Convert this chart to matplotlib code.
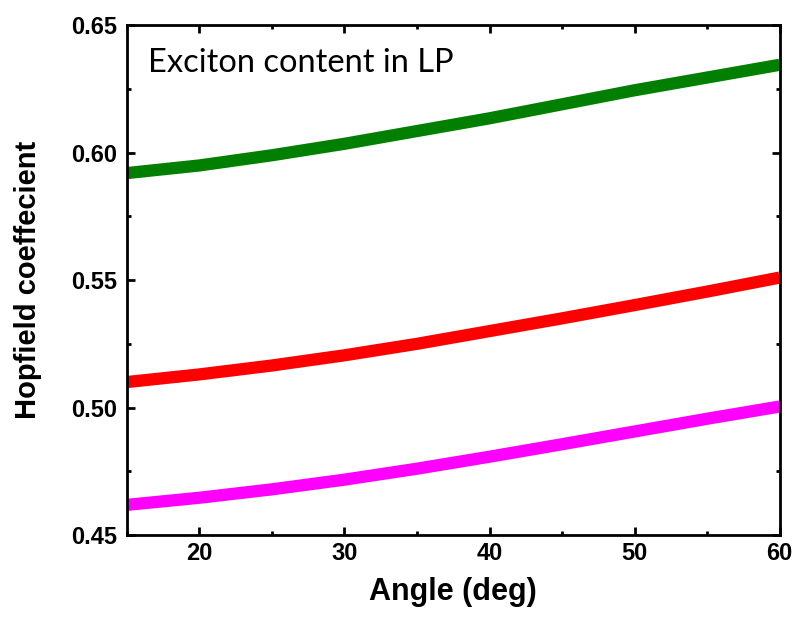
import matplotlib.pyplot as plt
import numpy as np

# angle (deg) and Hopfield coefficients
angle = [15, 20, 25, 30, 35, 40, 45, 50, 55, 60]
green_lp = [0.5920, 0.5950, 0.5990, 0.6035, 0.6085, 0.6135, 0.6190, 0.6245, 0.6295, 0.6345]
red_lp = [0.5100, 0.5130, 0.5165, 0.5205, 0.5250, 0.5300, 0.5350, 0.5402, 0.5455, 0.5510]
magenta_lp = [0.4618, 0.4646, 0.4679, 0.4717, 0.4760, 0.4807, 0.4856, 0.4906, 0.4956, 0.5004]

plt.rcParams['font.family'] = ['Liberation Sans', 'DejaVu Sans']

fig = plt.figure(figsize=(7.98, 6.17), dpi=100)
ax = fig.add_axes([0.159, 0.133, 0.818, 0.826])

ax.plot(angle, green_lp, color='#007f00', lw=8.8, solid_capstyle='butt')
ax.plot(angle, red_lp, color='#ff0000', lw=8.8, solid_capstyle='butt')
ax.plot(angle, magenta_lp, color='#ff00ff', lw=8.8, solid_capstyle='butt')

ax.set_xlim(15, 60)
ax.set_ylim(0.45, 0.65)
ax.set_xticks([20, 30, 40, 50, 60])
ax.set_xticks([15, 25, 35, 45, 55], minor=True)
ax.set_yticks([0.45, 0.50, 0.55, 0.60, 0.65])
ax.set_yticks([0.475, 0.525, 0.575, 0.625], minor=True)
ax.set_yticklabels(['0.45', '0.50', '0.55', '0.60', '0.65'])

for s in ax.spines.values():
    s.set_linewidth(2)
ax.tick_params(which='both', direction='in', top=True, right=True, width=2)
ax.tick_params(which='major', length=6, labelsize=17)
ax.tick_params(axis='y', which='major', pad=7)
ax.tick_params(axis='x', which='major', pad=5)
ax.tick_params(which='minor', length=3)
for lab in ax.get_xticklabels() + ax.get_yticklabels():
    lab.set_fontweight('bold')

ax.set_xlabel('Angle (deg)', fontsize=22, fontweight='bold', labelpad=9)
ax.set_ylabel('Hopfield coeffecient', fontsize=21, fontweight='bold', labelpad=21)

ax.text(0.033, 0.955, 'Exciton content in LP', transform=ax.transAxes,
        fontsize=23.5, family='Lato', va='top', ha='left')

fig.savefig('out.png', dpi=100)
